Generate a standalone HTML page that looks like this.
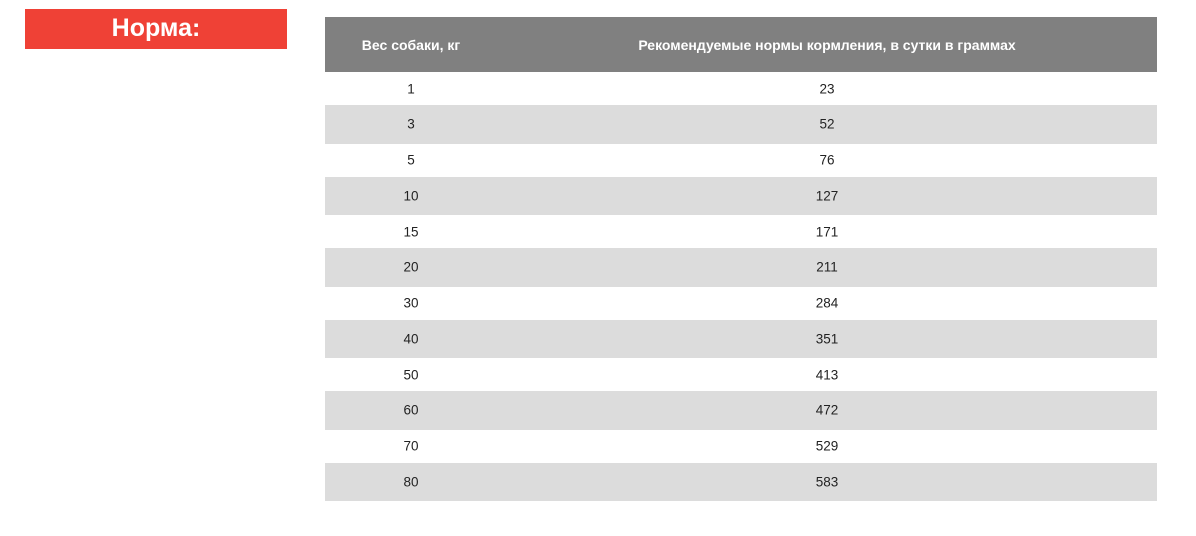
<!DOCTYPE html>
<html><head><meta charset="utf-8"><style>
body{margin:0;width:1196px;height:536px;background:#fff;position:relative;font-family:"Liberation Sans",sans-serif;overflow:hidden}
.red{position:absolute;left:25px;top:9px;width:262px;height:40px;background:#ef4136;color:#fff;font-weight:bold;font-size:25px;text-align:center;line-height:38px}
.t{position:absolute;left:325px;top:17px;width:832px}
.h{height:55px;background:#808080;color:#fff;font-weight:bold;font-size:14px;position:relative}
.r{position:relative;font-size:13.5px;color:#222}
.w{height:33px;background:#fff}
.g{height:38.5px;background:#dcdcdc}
.c1,.c2{position:absolute;top:50%;transform:translate(-50%,-50%);white-space:nowrap}
.c1{left:86px}.c2{left:502px}
</style></head><body>
<div class="red">Норма:</div>
<div class="t">
<div class="h"><span class="c1">Вес собаки, кг</span><span class="c2">Рекомендуемые нормы кормления, в сутки в граммах</span></div>
<div class="r w"><span class="c1">1</span><span class="c2">23</span></div>
<div class="r g"><span class="c1">3</span><span class="c2">52</span></div>
<div class="r w"><span class="c1">5</span><span class="c2">76</span></div>
<div class="r g"><span class="c1">10</span><span class="c2">127</span></div>
<div class="r w"><span class="c1">15</span><span class="c2">171</span></div>
<div class="r g"><span class="c1">20</span><span class="c2">211</span></div>
<div class="r w"><span class="c1">30</span><span class="c2">284</span></div>
<div class="r g"><span class="c1">40</span><span class="c2">351</span></div>
<div class="r w"><span class="c1">50</span><span class="c2">413</span></div>
<div class="r g"><span class="c1">60</span><span class="c2">472</span></div>
<div class="r w"><span class="c1">70</span><span class="c2">529</span></div>
<div class="r g"><span class="c1">80</span><span class="c2">583</span></div>
</div>
</body></html>
